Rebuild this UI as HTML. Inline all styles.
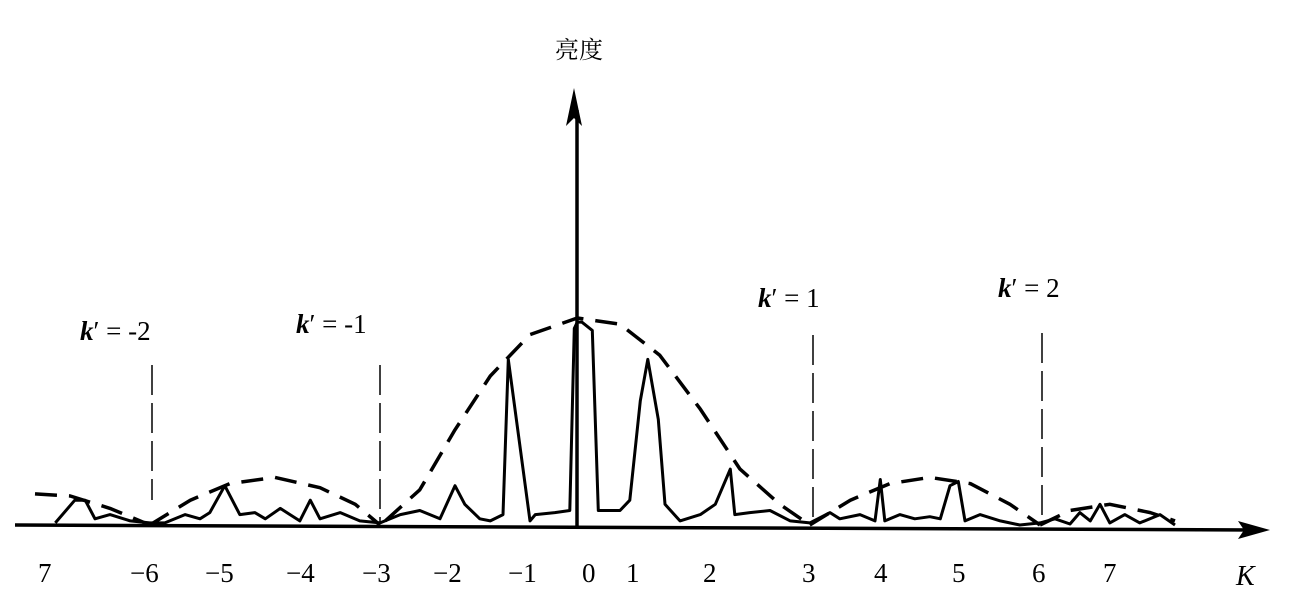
<!DOCTYPE html>
<html><head><meta charset="utf-8"><style>
html,body{margin:0;padding:0;background:#fff;}
svg{display:block;}
text{font-family:"Liberation Serif","Noto Serif CJK SC",serif;fill:#000;}
</style></head><body>
<svg id="chart" width="1289" height="603" viewBox="0 0 1289 603">
<g id="axes">
<line x1="15" y1="525" x2="1255" y2="530" stroke="#000" stroke-width="3.5"/>
<polygon points="1270,530 1238,521 1244,530 1238,539" fill="#000"/>
<line x1="577" y1="528" x2="577" y2="110" stroke="#000" stroke-width="3.5"/>
<polygon points="574,88 566,126 574,118 582,126" fill="#000"/>
<text x="555" y="58" font-size="24" font-family="Noto Sans CJK SC, sans-serif">亮度</text>
<text x="1236" y="585" font-size="28" font-style="italic">K</text>
</g>
<g id="ticks" font-size="27">
<text x="38" y="582">7</text>
<text x="130" y="582">−6</text>
<text x="205" y="582">−5</text>
<text x="286" y="582">−4</text>
<text x="362" y="582">−3</text>
<text x="433" y="582">−2</text>
<text x="508" y="582">−1</text>
<text x="582" y="582">0</text>
<text x="626" y="582">1</text>
<text x="703" y="582">2</text>
<text x="802" y="582">3</text>
<text x="874" y="582">4</text>
<text x="952" y="582">5</text>
<text x="1032" y="582">6</text>
<text x="1103" y="582">7</text>
</g>
<g id="kprime" font-size="27">
<line x1="152" y1="365" x2="152" y2="500" stroke="#000" stroke-width="1.5" stroke-dasharray="30,8"/>
<line x1="380" y1="365" x2="380" y2="522" stroke="#000" stroke-width="1.5" stroke-dasharray="30,8"/>
<line x1="813" y1="335" x2="813" y2="522" stroke="#000" stroke-width="1.5" stroke-dasharray="30,8"/>
<line x1="1042" y1="333" x2="1042" y2="522" stroke="#000" stroke-width="1.5" stroke-dasharray="30,8"/>
<text x="80" y="340"><tspan font-style="italic" font-weight="bold">k</tspan>′ =  -2</text>
<text x="296" y="333"><tspan font-style="italic" font-weight="bold">k</tspan>′ =  -1</text>
<text x="758" y="307"><tspan font-style="italic" font-weight="bold">k</tspan>′ = 1</text>
<text x="998" y="297"><tspan font-style="italic" font-weight="bold">k</tspan>′ = 2</text>
</g>
<g id="series"></g>
</svg>
<script>
const specK=[-7.13,-6.87,-6.73,-6.6,-6.4,-6.13,-5.87,-5.67,-5.4,-5.2,-5.07,-4.87,-4.67,-4.47,-4.33,-4.13,-4.0,-3.87,-3.73,-3.6,-3.33,-3.07,-2.8,-2.53,-2.27,-2.0,-1.8,-1.67,-1.47,-1.33,-1.16,-1.09,-0.8,-0.73,-0.47,-0.27,-0.21,-0.17,-0.11,0.03,0.11,0.4,0.53,0.67,0.77,0.91,1.0,1.2,1.47,1.67,1.87,1.93,2.13,2.4,2.67,2.93,3.2,3.33,3.6,3.8,3.87,3.93,4.13,4.33,4.53,4.67,4.8,4.91,5.0,5.2,5.47,5.73,6.0,6.2,6.4,6.53,6.67,6.8,6.93,7.13,7.33,7.6,7.8];
const specA=[0.01,0.12,0.12,0.03,0.05,0.02,0.01,0.01,0.05,0.03,0.06,0.19,0.05,0.06,0.03,0.08,0.05,0.02,0.12,0.03,0.06,0.02,0.01,0.05,0.07,0.03,0.19,0.1,0.03,0.02,0.05,0.8,0.02,0.05,0.06,0.07,0.95,0.98,0.98,0.94,0.07,0.07,0.12,0.6,0.8,0.51,0.1,0.02,0.05,0.1,0.27,0.05,0.06,0.07,0.02,0.01,0.06,0.03,0.05,0.02,0.22,0.02,0.05,0.03,0.04,0.03,0.19,0.21,0.02,0.05,0.02,0.0,0.01,0.03,0.005,0.06,0.02,0.1,0.01,0.05,0.01,0.05,0.0];
const envMainK=[-2.73,-2.27,-1.8,-1.33,-0.8,-0.17,0.4,0.93,1.47,2.0,2.53,2.93];
const envMainA=[0.02,0.17,0.46,0.72,0.92,1.0,0.97,0.82,0.56,0.27,0.1,0.0];
const envLeftK=[-5.87,-5.33,-4.8,-4.2,-3.6,-3.13,-2.8];
const envLeftA=[0.0,0.12,0.2,0.23,0.18,0.1,0.0];
const envRightK=[2.93,3.47,4.0,4.53,5.07,5.6,6.0];
const envRightA=[0.0,0.12,0.2,0.23,0.2,0.1,0.0];
const envFarLeftK=[-7.4,-6.93,-6.4,-5.87];
const envFarLeftA=[0.15,0.14,0.08,0.0];
const envFarRightK=[6.0,6.4,6.93,7.47,7.8];
const envFarRightA=[0.0,0.07,0.1,0.06,0.02];

function xs(k){return 590+k*75;}
function ys(a){return 525-a*207;}
const g=document.getElementById('series');
const NS='http://www.w3.org/2000/svg';
function line(K,A,dash,name){
  const p=document.createElementNS(NS,'polyline');
  p.setAttribute('points',K.map((k,i)=>xs(k).toFixed(1)+','+ys(A[i]).toFixed(1)).join(' '));
  p.setAttribute('fill','none');p.setAttribute('stroke','#000');
  p.setAttribute('stroke-width',dash?3.5:3);
  p.setAttribute('stroke-linejoin','round');
  if(dash)p.setAttribute('stroke-dasharray','22,12');
  
  
  g.appendChild(p);
}
line(envMainK,envMainA,true,'envelope-main-lobe');
line(envLeftK,envLeftA,true,'envelope-left-lobe');
line(envRightK,envRightA,true,'envelope-right-lobe');
line(envFarLeftK,envFarLeftA,true,'envelope-far-left-lobe');
line(envFarRightK,envFarRightA,true,'envelope-far-right-lobe');
line(specK,specA,false,'spectrum-curve');
</script>
</body></html>
